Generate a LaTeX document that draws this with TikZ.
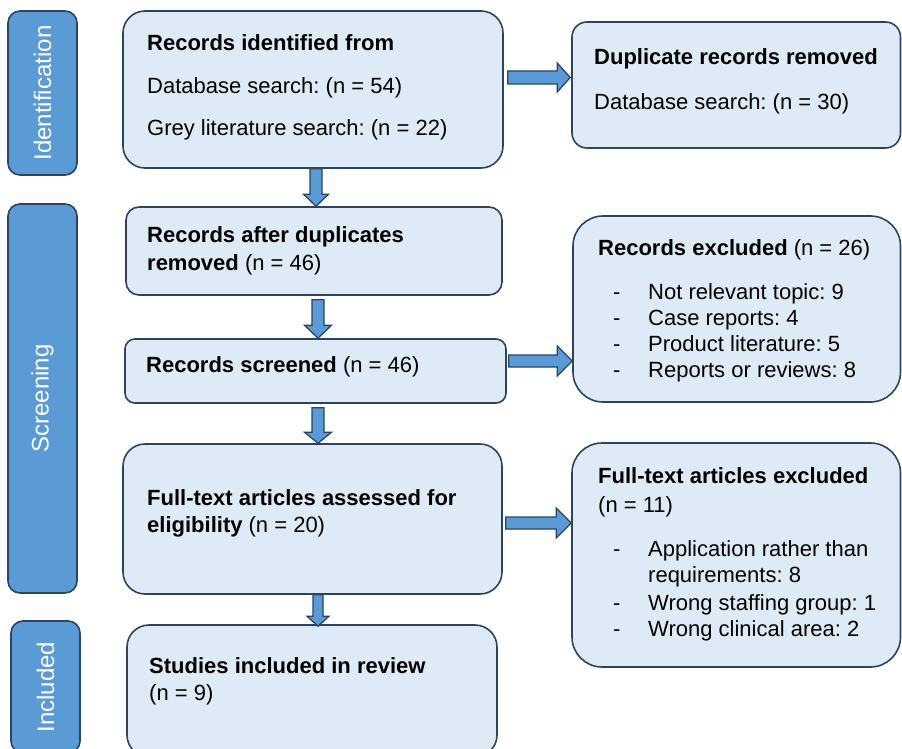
\documentclass[tikz,border=0pt]{standalone}
\usepackage{fontspec}
\setmainfont{Liberation Sans}
\usetikzlibrary{calc}
\frenchspacing

\definecolor{boxfill}{RGB}{222,235,247}
\definecolor{boxline}{RGB}{44,68,98}
\definecolor{barfill}{RGB}{91,155,213}

\newcommand{\topstrut}{\rule{0pt}{18pt}}
\newcommand{\listdash}{\makebox[50pt][l]{\hspace{15pt}-}}
\newcommand{\listcont}{\makebox[50pt]{}}

% block arrow pointing down: start, tip, shaft half-width, head half-width, head length
\newcommand{\downblock}[5]{%
  \draw[blockarr] let \p1=(#1), \p2=(#2) in
    (\x2-#3,\y1) -- (\x2-#3,\y2+#5) -- (\x2-#4,\y2+#5) -- (\x2,\y2)
    -- (\x2+#4,\y2+#5) -- (\x2+#3,\y2+#5) -- (\x2+#3,\y1) -- cycle;}
% block arrow pointing right: start, tip, shaft half-width, head half-width, head length
\newcommand{\rightblock}[5]{%
  \draw[blockarr] let \p1=(#1), \p2=(#2) in
    (\x1,\y2+#3) -- (\x2-#5,\y2+#3) -- (\x2-#5,\y2+#4) -- (\x2,\y2)
    -- (\x2-#5,\y2-#4) -- (\x2-#5,\y2-#3) -- (\x1,\y2-#3) -- cycle;}

\tikzset{
  stage/.style={draw=boxline, fill=boxfill, line width=1.6pt, inner sep=0pt},
  phase/.style={draw=boxline, fill=barfill, line width=1.6pt, inner sep=0pt,
    rounded corners=12pt, rotate=90, text=white,
    font=\fontsize{24}{28}\selectfont, minimum height=69pt},
  txt/.style={anchor=north west, inner sep=0pt, align=left,
    font=\fontsize{22}{26}\selectfont},
  blockarr/.style={draw=boxline, fill=barfill, line width=1.3pt, line join=miter},
}

\begin{document}
\begin{tikzpicture}[x=1pt, y=-1pt]
  \fill[white] (0,0) rectangle (902,749);
  \clip (0,0) rectangle (902,749);

  % phase bars
  \node[phase, minimum width=164pt] (Iden) at (42.5,93) {Identification};
  \node[phase, minimum width=389pt] (Scr) at (42.5,398.5) {Screening};
  \node[phase, minimum width=132pt] (Inc) at (45.5,687) {Included};

  % main column
  \node[stage, rounded corners=22pt, minimum width=380pt, minimum height=157pt] (A) at (313,89.5) {};
  \node[stage, rounded corners=13pt, minimum width=376pt, minimum height=88pt] (C) at (314,251) {};
  \node[stage, rounded corners=10pt, minimum width=381pt, minimum height=64pt] (D) at (315.5,371) {};
  \node[stage, rounded corners=22pt, minimum width=379pt, minimum height=150pt] (F) at (312.5,519) {};
  \node[stage, rounded corners=22pt, minimum width=370pt, minimum height=132pt] (H) at (312,691) {};

  % exclusion column
  \node[stage, rounded corners=15pt, minimum width=328.5pt, minimum height=126pt] (B) at (736.25,85) {};
  \node[stage, rounded corners=30pt, minimum width=327.5pt, minimum height=186pt] (E) at (736.75,309) {};
  \node[stage, rounded corners=30pt, minimum width=328.5pt, minimum height=224pt] (G) at (736.25,555) {};

  % texts
  \node[txt] (At) at (147,32) {\topstrut\textbf{Records identified from}\\[17pt]Database search: (n = 54)\\[16pt]Grey literature search: (n = 22)};
  \node[txt] (Bt) at (594,46) {\topstrut\textbf{Duplicate records removed}\\[19pt]Database search: (n = 30)};
  \node[txt] (Ct) at (147,224) {\topstrut\textbf{Records after duplicates}\\[2pt]\textbf{removed} (n = 46)};
  \node[txt] (Dt) at (146,354) {\topstrut\textbf{Records screened} (n = 46)};
  \node[txt] (Et) at (598,237) {\topstrut\textbf{Records excluded} (n = 26)\\[18pt]\listdash Not relevant topic: 9\\ \listdash Case reports: 4\\ \listdash Product literature: 5\\ \listdash Reports or reviews: 8};
  \node[txt] (Ft) at (147,487) {\topstrut\textbf{Full-text articles assessed for}\\[1pt]\textbf{eligibility} (n = 20)};
  \node[txt] (Gt) at (598,465) {\topstrut\textbf{Full-text articles excluded}\\[3pt](n = 11)\\[18pt]\listdash Application rather than\\ \listcont requirements: 8\\[2pt]\listdash Wrong staffing group: 1\\ \listdash Wrong clinical area: 2};
  \node[txt] (Ht) at (149,655) {\topstrut\textbf{Studies included in review}\\[1pt](n = 9)};

  % arrow guides
  \coordinate (colA) at (316,0);
  \coordinate (colB) at (318,0);
  \coordinate (rowA) at (0,77.5);
  \coordinate (rowD) at (0,361);
  \coordinate (rowF) at (0,523);

  % flow arrows
  \downblock{A.south -| colA}{C.north -| colA}{6pt}{12.5pt}{12pt}
  \downblock{$(C.south -| colB)+(0,4)$}{D.north -| colB}{6pt}{13.5pt}{13pt}
  \downblock{$(D.south -| colB)+(0,4)$}{F.north -| colB}{6pt}{13.5pt}{11pt}
  \downblock{F.south -| colB}{$(H.north -| colB)+(0,2)$}{5pt}{11pt}{10pt}
  \rightblock{$(A.east |- rowA)+(4,0)$}{$(B.west |- rowA)+(-1,0)$}{6.5pt}{14.5pt}{13pt}
  \rightblock{$(D.east |- rowD)+(2,0)$}{E.west |- rowD}{6pt}{15pt}{15pt}
  \rightblock{$(F.east |- rowF)+(3,0)$}{G.west |- rowF}{6pt}{15pt}{15pt}
\end{tikzpicture}
\end{document}
